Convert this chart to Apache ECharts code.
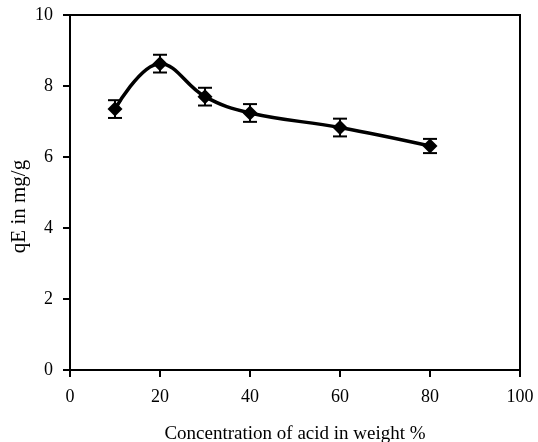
<!DOCTYPE html>
<html>
<head>
<meta charset="utf-8">
<script src="https://cdn.jsdelivr.net/npm/echarts@6/dist/echarts.min.js"></script>
<style>
html, body { margin: 0; padding: 0; background: #fff; }
#chart { width: 538px; height: 442px; }
</style>
</head>
<body>
<div id="chart"></div>
<script>
var concentration = [10, 20, 30, 40, 60, 80];
var qE = [7.35, 8.63, 7.7, 7.24, 6.83, 6.31];
var errorSize = [0.25, 0.25, 0.25, 0.25, 0.25, 0.2];

var font = 'Liberation Serif';

var chart = echarts.init(document.getElementById('chart'));
chart.setOption({
    animation: false,
    grid: {
        left: 70, right: 18, top: 15, bottom: 72,
        containLabel: false, outerBoundsMode: 'none',
        show: true, borderColor: '#000', borderWidth: 2
    },
    xAxis: {
        type: 'value', min: 0, max: 100, interval: 20,
        name: 'Concentration of acid in weight %',
        nameLocation: 'middle', nameGap: 55, nameMoveOverlap: false,
        nameTextStyle: { fontFamily: font, fontSize: 19, color: '#000' },
        axisLine: { show: true, lineStyle: { color: '#000', width: 2 } },
        axisTick: { show: true, inside: false, length: 7, lineStyle: { color: '#000', width: 2 } },
        axisLabel: { fontFamily: font, fontSize: 18, color: '#000', margin: 18 },
        splitLine: { show: false }
    },
    yAxis: {
        type: 'value', min: 0, max: 10, interval: 2,
        name: 'qE in mg/g',
        nameLocation: 'middle', nameGap: 40, nameMoveOverlap: false,
        nameTextStyle: { fontFamily: font, fontSize: 21, color: '#000', padding: [0, 28, 0, 0] },
        axisLine: { show: true, lineStyle: { color: '#000', width: 2 } },
        axisTick: { show: true, inside: false, length: 7, lineStyle: { color: '#000', width: 2 } },
        axisLabel: { fontFamily: font, fontSize: 18, color: '#000', margin: 17, padding: [5, 0, 0, 0] },
        splitLine: { show: false }
    },
    series: [{
        type: 'line',
        smooth: 0.4,
        data: concentration.map(function (c, i) { return [c, qE[i]]; }),
        symbol: 'diamond',
        symbolSize: 15,
        lineStyle: { color: '#000', width: 3.5 },
        itemStyle: { color: '#000' }
    }, {
        type: 'custom',
        data: concentration.map(function (c, i) { return [c, qE[i] - errorSize[i], qE[i] + errorSize[i]]; }),
        renderItem: function (params, api) {
            var lo = api.coord([api.value(0), api.value(1)]);
            var hi = api.coord([api.value(0), api.value(2)]);
            var w = 7;
            var style = { stroke: '#000', lineWidth: 2 };
            return {
                type: 'group',
                children: [
                    { type: 'line', shape: { x1: lo[0], y1: lo[1], x2: hi[0], y2: hi[1] }, style: style },
                    { type: 'line', shape: { x1: lo[0] - w, y1: lo[1], x2: lo[0] + w, y2: lo[1] }, style: style },
                    { type: 'line', shape: { x1: hi[0] - w, y1: hi[1], x2: hi[0] + w, y2: hi[1] }, style: style }
                ]
            };
        },
        z: 3
    }]
});
</script>
</body>
</html>
